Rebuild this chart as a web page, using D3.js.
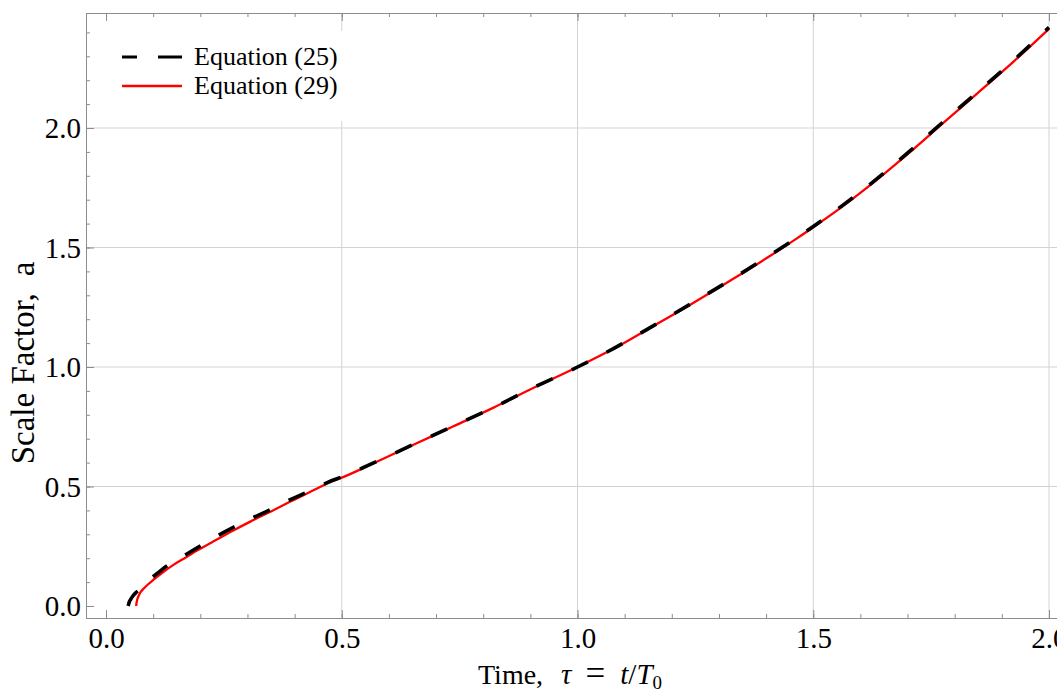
<!DOCTYPE html>
<html><head><meta charset="utf-8">
<script src="https://cdn.jsdelivr.net/npm/d3@7"></script>
<style>body{margin:0;background:#fff}svg{display:block}text{font-family:"Liberation Serif","Times New Roman",serif}</style>
</head><body><svg id="c" width="1057" height="693"></svg>
<script>
// Equation (25) – black dashed
const tau25 = [0.047,0.049,0.052,0.057,0.063,0.071,0.085,0.095,0.109,0.125,0.143,0.165,0.188,0.224,0.27,0.307,0.355,0.392,0.44,0.477,0.50,0.564,0.652,0.737,0.822,0.907,1.0,1.077,1.155,1.24,1.321,1.403,1.459,1.5,1.558,1.636,1.707,1.774,1.848,1.926,2.0];
const a25   = [0,0.015,0.027,0.042,0.055,0.068,0.098,0.115,0.137,0.162,0.185,0.21,0.237,0.28,0.329,0.365,0.409,0.446,0.488,0.523,0.540,0.596,0.676,0.753,0.831,0.914,1.0,1.078,1.166,1.264,1.360,1.461,1.533,1.588,1.670,1.789,1.907,2.023,2.150,2.285,2.421];
// Equation (29) – red solid
const tau29 = [0.064,0.0645,0.066,0.069,0.074,0.08,0.09,0.10,0.12,0.143,0.17,0.193,0.224,0.27,0.307,0.355,0.392,0.44,0.477,0.50,0.564,0.652,0.737,0.822,0.907,1.0,1.077,1.155,1.24,1.321,1.403,1.459,1.5,1.558,1.636,1.707,1.774,1.848,1.926,2.0];
const a29   = [0,0.01,0.025,0.042,0.06,0.073,0.092,0.109,0.14,0.172,0.204,0.232,0.266,0.316,0.354,0.401,0.438,0.484,0.52,0.537,0.594,0.675,0.752,0.830,0.913,1.0,1.077,1.165,1.262,1.358,1.458,1.530,1.585,1.666,1.785,1.902,2.018,2.145,2.28,2.415];
const xMajor = [0.0,0.5,1.0,1.5,2.0];
const yMajor = [0.0,0.5,1.0,1.5,2.0];
const legendLabels = ["Equation (25)","Equation (29)"];

const svg = d3.select("#c");
const L=86, T=13, R=1068, B=618;
const x = d3.scaleLinear().domain([-0.04246,2.0403]).range([L,R]);
const y = d3.scaleLinear().domain([-0.0502,2.4812]).range([B,T]);
const frameCol="#8c8c8c", gridCol="#d3d3d3";

// grid
const g = svg.append("g");
g.selectAll(".gx").data(xMajor.filter(v=>v>0)).enter().append("line")
 .attr("x1",d=>x(d)).attr("x2",d=>x(d)).attr("y1",T).attr("y2",B)
 .attr("stroke",gridCol).attr("stroke-width",1);
g.selectAll(".gy").data(yMajor.filter(v=>v>0)).enter().append("line")
 .attr("x1",L).attr("x2",R).attr("y1",d=>y(d)).attr("y2",d=>y(d))
 .attr("stroke",gridCol).attr("stroke-width",1);

const xMinor = d3.range(0,21).map(i=>i/10);
const yMinor = d3.range(0,25).map(i=>i/10);
function styleAx(sel){sel.select(".domain").remove();sel.selectAll("line").attr("stroke",frameCol);}
const fmt = d3.format(".1f");
svg.append("g").attr("transform",`translate(0,${B})`)
 .call(d3.axisBottom(x).tickValues(xMinor).tickSize(-4).tickFormat(""))
 .call(styleAx);
svg.append("g").attr("transform",`translate(0,${B})`)
 .call(d3.axisBottom(x).tickValues(xMajor).tickSize(-8).tickFormat(fmt))
 .call(styleAx).call(s=>s.selectAll("text").attr("font-size",29).attr("fill","#000")
   .attr("font-family","Liberation Serif").attr("y",30).attr("dy","0"));
svg.append("g").attr("transform",`translate(0,${T})`)
 .call(d3.axisTop(x).tickValues(xMinor).tickSize(-4).tickFormat("")).call(styleAx);
svg.append("g").attr("transform",`translate(0,${T})`)
 .call(d3.axisTop(x).tickValues(xMajor).tickSize(-8).tickFormat("")).call(styleAx);
svg.append("g").attr("transform",`translate(${L},0)`)
 .call(d3.axisLeft(y).tickValues(yMinor).tickSize(-4).tickFormat("")).call(styleAx);
svg.append("g").attr("transform",`translate(${L},0)`)
 .call(d3.axisLeft(y).tickValues(yMajor).tickSize(-8).tickPadding(5).tickFormat(fmt))
 .call(styleAx).call(s=>s.selectAll("text").attr("font-size",29).attr("fill","#000").attr("font-family","Liberation Serif").attr("dy","0.34em"));

// frame
svg.append("rect").attr("x",L+0.5).attr("y",T+0.5).attr("width",R-L).attr("height",B-T)
 .attr("fill","none").attr("stroke",frameCol).attr("stroke-width",1);

// curves
const line = d3.line().x(d=>x(d[0])).y(d=>y(d[1])).curve(d3.curveMonotoneX);
const d25 = tau25.map((t,i)=>[t,a25[i]]);
const d29 = tau29.map((t,i)=>[t,a29[i]]);
svg.append("path").attr("d",line(d29)).attr("fill","none").attr("stroke","#ff0000").attr("stroke-width",2.3);
svg.append("path").attr("d",line(d25)).attr("fill","none").attr("stroke","#000").attr("stroke-width",3.6)
 .attr("stroke-dasharray","18,21");

// legend
svg.append("rect").attr("x",100).attr("y",31).attr("width",244).attr("height",90).attr("fill","#fff");
const lg = svg.append("g");
lg.append("line").attr("x1",122).attr("x2",182).attr("y1",57).attr("y2",57)
 .attr("stroke","#000").attr("stroke-width",3.2).attr("stroke-dasharray","15,21,24");
lg.append("line").attr("x1",122).attr("x2",182).attr("y1",86).attr("y2",86)
 .attr("stroke","#ff0000").attr("stroke-width",2.3);
lg.selectAll("text").data(legendLabels).enter().append("text")
 .attr("x",194).attr("y",(d,i)=>65+i*29).attr("font-size",26).text(d=>d);

// axis titles
const xt = svg.append("text").attr("x",478).attr("y",684).attr("font-size",28);
xt.append("tspan").text("Time,");
xt.append("tspan").attr("dx",18).attr("font-style","italic").attr("font-size",29).text("\u03C4");
xt.append("tspan").attr("dx",14).attr("dy",1).attr("font-size",35).text("=");
xt.append("tspan").attr("dx",15).attr("dy",-1).attr("font-style","italic").attr("font-size",29).text("t");
xt.append("tspan").attr("font-size",29).text("/");
xt.append("tspan").attr("font-style","italic").attr("font-size",29).text("T");
xt.append("tspan").attr("font-size",19).attr("dy",5).text("0");
const yt = svg.append("text").attr("transform","translate(34,363) rotate(-90)").attr("text-anchor","middle")
 .attr("font-size",33);
yt.append("tspan").text("Scale Factor,");
yt.append("tspan").attr("dx",17).text("a");
</script></body></html>
